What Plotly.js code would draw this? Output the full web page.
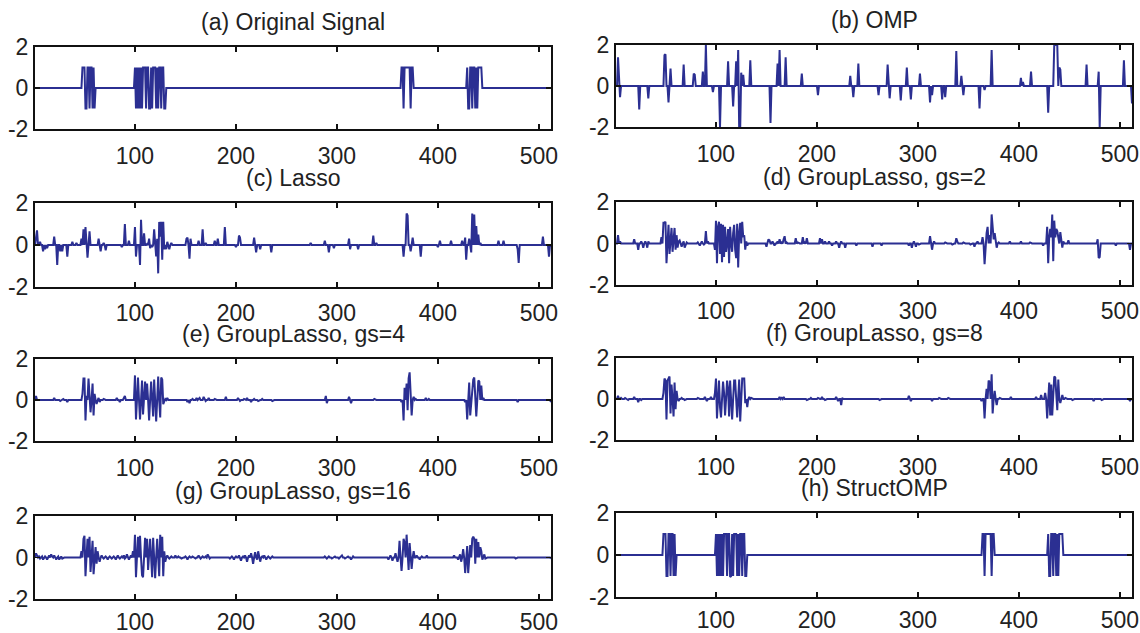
<!DOCTYPE html>
<html><head><meta charset="utf-8">
<script src="https://cdn.plot.ly/plotly-3.0.1.min.js"></script>
<style>html,body{margin:0;padding:0;background:#fff}#chart{width:1140px;height:633px}</style>
</head><body><div id="chart"></div>
<script>
// ---------------- DATA ----------------
const N = 512;                       // signal length (sample index 1..512)
const xTickVals = [100, 200, 300, 400, 500];
const yTickVals = [-2, 0, 2];
const yTickText = ['-2', '0', '2'];
const panelTitles = [
  '(a) Original Signal', '(b) OMP',
  '(c) Lasso', '(d) GroupLasso, gs=2',
  '(e) GroupLasso, gs=4', '(f) GroupLasso, gs=8',
  '(g) GroupLasso, gs=16', '(h) StructOMP'
];

// block-sparse signals: [start index, values...]
const originalBlocks = [
  [48,  [1,1,1,-1,-1,1,1,-1,1,1,-1,1,-1]],
  [100, [1,-1,1,-1,1,-1,1,-1,1,1,1,-1,1,1,-1,-1,1,-1,1,1,1,-1,1,-1,1,1,-1,1,1,-1,-1]],
  [364, [1,1,-1,1,1,1,1,1,1,-1,1,1]],
  [429, [1,-1,-1,1,1,-1,1,1,-1,1,-1,1,1,1,1]]
];
const structOmpBlocks = [
  [48,  [1,1,1,-1,-1,1,1,-1,1,1,-1,1,-1]],
  [100, [1,-1,1,-1,1,-1,1,-1,1,1,1,-1,1,1,-1.05,-1,1,-1,1,1,1,-1,1,-1,1,1,-1,1,1,-1,-1]],
  [364, [1,1,-1,1,1,1,1,1,1,-1,1,1]],
  [429, [1,-1,-1,1,1,-1,1,1,-1,1,-1,1,1,1,1]]
];

// recovered signals: [index, value] nonzero entries
const ompPairs = [[3,1.4],[5,-0.55],[24,-1.15],[33,-0.6],[49,1.5],[50,1.55],[53,-0.8],[55,0.85],[68,1.05],[78,0.6],[79,0.55],[87,0.7],[90,2.0],[97,-0.3],[104,-2.0],[112,1.2],[117,-1.0],[120,1.2],[122,1.75],[123,-2.1],[124,-2.1],[125,0.65],[127,0.55],[134,1.25],[154,-1.8],[161,1.1],[163,1.75],[169,1.4],[185,0.6],[201,-0.45],[233,0.5],[236,-0.55],[241,1.1],[261,-0.45],[270,1.05],[272,-0.6],[283,-0.7],[289,0.9],[293,-0.65],[302,0.6],[312,-0.8],[314,-0.45],[324,-0.65],[327,-0.55],[338,1.7],[343,0.5],[345,-0.45],[361,-1.1],[366,-0.2],[373,1.75],[402,0.4],[404,0.2],[412,0.7],[429,-1.3],[435,2.0],[436,2.0],[437,2.0],[438,2.0],[440,0.9],[441,0.8],[467,1.05],[479,0.7],[480,-2.0],[504,1.25],[512,-0.85]];

const lassoPairs = [[2,0.3],[3,0.7],[6,0.15],[9,-0.3],[11,-0.2],[13,-0.15],[20,0.4],[23,-0.95],[26,-0.3],[28,-0.3],[33,-0.55],[38,0.15],[42,0.1],[47,0.3],[49,0.75],[51,0.85],[53,-0.6],[55,0.65],[64,0.3],[66,-0.3],[69,0.1],[71,-0.25],[87,-0.1],[90,1.0],[94,0.2],[100,0.85],[101,-0.55],[105,-0.95],[106,1.2],[109,0.55],[112,0.05],[114,0.3],[115,-0.15],[117,-0.1],[119,0.75],[121,-0.55],[122,0.3],[123,-1.35],[124,1.1],[125,0.4],[126,1.1],[127,-0.7],[128,1.1],[129,-0.2],[131,-0.2],[132,0.15],[134,-0.2],[136,0.1],[151,0.3],[152,0.35],[154,-0.65],[155,0.3],[163,0.2],[167,0.75],[170,0.1],[179,0.2],[182,0.3],[189,0.85],[200,-0.1],[203,0.45],[204,0.35],[218,0.35],[220,-0.35],[224,-0.2],[235,-0.35],[274,0.1],[288,0.2],[292,-0.35],[297,-0.15],[312,0.3],[313,-0.2],[321,-0.2],[336,0.45],[339,0.1],[366,-0.55],[369,1.5],[370,1.4],[373,-0.3],[375,0.35],[383,-0.55],[400,-0.1],[402,0.2],[413,0.2],[424,0.2],[427,0.35],[428,-0.7],[431,0.3],[433,-0.35],[434,1.5],[436,1.45],[438,0.9],[440,0.5],[442,0.1],[460,0.2],[465,0.2],[479,-0.2],[480,-0.85],[504,0.4],[510,-0.55],[512,-0.1]];

const groupLasso2Pairs = [[3,0.4],[5,0.1],[19,0.2],[23,-0.3],[26,0.1],[28,-0.2],[30,0.1],[32,-0.2],[33,0.1],[46,0.3],[48,1.0],[49,1.0],[50,1.05],[51,-0.95],[53,0.9],[54,-0.5],[55,0.3],[56,0.75],[57,-0.4],[58,0.2],[59,0.75],[60,-0.3],[61,0.4],[62,-0.2],[63,0.1],[64,0.15],[66,-0.15],[68,0.1],[69,-0.2],[71,0.05],[82,0.05],[84,-0.1],[86,0.1],[88,-0.05],[90,0.6],[92,0.1],[99,-0.3],[100,1.1],[101,-0.95],[102,0.8],[103,1.05],[104,-0.5],[105,0.95],[106,-0.9],[107,0.9],[108,-0.65],[109,0.8],[110,-0.4],[112,0.7],[113,-0.95],[114,0.8],[116,-0.4],[117,0.5],[118,0.9],[119,-0.3],[120,-0.7],[121,0.95],[122,-1.15],[123,0.5],[124,1.0],[126,1.05],[127,0.3],[128,0.4],[129,-0.3],[130,0.1],[131,-0.1],[150,-0.15],[152,0.2],[153,0.15],[156,0.1],[158,-0.1],[161,0.1],[163,0.2],[165,0.05],[167,0.2],[168,0.35],[170,0.05],[179,0.25],[181,0.05],[186,0.3],[188,0.05],[190,0.25],[203,0.25],[205,0.2],[208,0.1],[212,0.1],[215,-0.1],[219,0.1],[222,-0.2],[224,0.1],[228,-0.2],[239,-0.1],[255,-0.15],[264,-0.1],[291,-0.1],[294,-0.2],[296,0.1],[298,-0.15],[301,-0.05],[312,0.35],[314,-0.3],[316,0.1],[327,0.05],[334,-0.05],[338,0.25],[339,0.1],[345,0.05],[352,-0.05],[356,-0.15],[359,0.1],[364,0.3],[366,-1.0],[368,0.5],[369,0.8],[371,0.4],[373,1.4],[374,0.7],[375,0.2],[376,0.5],[378,-0.2],[380,0.05],[391,0.1],[402,0.1],[411,0.05],[424,-0.1],[428,0.8],[429,-0.95],[430,0.3],[431,0.7],[432,0.3],[433,1.4],[434,-0.85],[435,1.1],[436,0.3],[437,0.7],[438,0.6],[439,0.2],[441,0.55],[443,-0.2],[444,0.1],[449,0.15],[478,0.2],[479,-0.7],[480,-0.65],[496,-0.1],[510,-0.3]];

const groupLasso4Pairs = [[2,0.2],[20,0.1],[26,-0.05],[29,0.05],[33,-0.1],[48,0.3],[49,1.05],[50,1.05],[51,-1.0],[52,0.2],[54,1.05],[55,0.2],[56,-0.6],[58,0.8],[59,-0.75],[60,0.3],[62,-0.2],[64,0.1],[65,-0.1],[69,0.05],[82,0.1],[85,-0.1],[89,0.1],[90,0.2],[100,1.2],[101,-0.95],[103,1.1],[105,-0.95],[107,0.95],[108,-0.7],[110,0.9],[112,0.8],[114,-1.0],[116,0.9],[118,-0.8],[119,1.0],[121,-1.05],[123,1.15],[125,-0.85],[126,1.1],[127,1.0],[128,-0.2],[130,0.05],[132,0.1],[152,-0.1],[154,-0.15],[157,0.05],[161,0.1],[163,0.05],[164,0.1],[168,0.15],[170,-0.05],[173,0.1],[179,0.05],[190,0.15],[202,0.1],[204,-0.05],[208,0.05],[211,0.1],[215,-0.1],[218,0.05],[222,-0.05],[226,0.05],[236,-0.05],[289,0.2],[290,-0.15],[312,0.15],[314,-0.15],[337,0.05],[364,-0.1],[366,-1.0],[367,0.6],[369,0.8],[370,-0.5],[371,1.05],[372,1.35],[374,-0.75],[376,0.15],[378,0.05],[388,0.1],[391,0.05],[427,-0.1],[429,-0.95],[431,0.85],[432,-0.75],[434,0.8],[435,1.0],[436,1.1],[437,0.4],[438,-0.8],[440,0.95],[441,0.9],[443,0.7],[445,0.1],[479,-0.1],[512,-0.1]];

const groupLasso8Pairs = [[3,0.15],[6,0.05],[10,0.05],[13,-0.05],[19,0.1],[23,-0.15],[26,-0.05],[48,0.3],[49,1.0],[50,0.9],[51,-1.0],[52,0.9],[53,1.05],[54,1.1],[55,-0.7],[56,0.7],[58,-0.85],[59,0.8],[60,-0.5],[61,0.4],[63,-0.1],[66,0.05],[69,-0.05],[82,0.05],[89,0.1],[91,-0.1],[95,0.1],[99,0.3],[100,1.0],[101,-0.95],[102,0.4],[103,0.9],[104,-0.4],[105,-0.9],[107,0.85],[108,0.3],[109,-0.8],[111,0.9],[112,0.5],[113,-0.85],[114,0.9],[116,-1.0],[118,0.9],[119,0.9],[121,-0.9],[123,0.95],[124,-1.1],[126,1.0],[127,1.0],[128,1.0],[129,-0.2],[131,-0.4],[133,0.1],[135,0.05],[163,0.1],[165,0.05],[167,0.1],[190,-0.05],[194,0.05],[201,0.05],[205,0.1],[208,-0.05],[219,0.1],[221,-0.1],[224,-0.3],[225,0.05],[262,-0.05],[291,0.15],[293,-0.1],[314,-0.1],[321,0.05],[330,0.05],[363,-0.1],[366,-0.95],[368,0.5],[370,0.9],[371,0.8],[373,1.2],[374,-0.7],[376,0.4],[378,-0.3],[381,0.05],[392,0.1],[417,0.1],[422,0.2],[426,0.3],[428,-0.95],[430,0.8],[431,-0.8],[432,0.7],[433,-0.8],[435,1.1],[436,1.05],[438,-0.55],[439,0.95],[441,-0.2],[443,0.2],[446,0.05],[453,-0.05],[474,-0.1],[482,-0.05],[510,-0.1]];

const groupLasso16Pairs = [[2,0.2],[3,0.1],[5,0.05],[6,-0.05],[8,0.05],[9,-0.1],[11,0.05],[13,-0.1],[15,0.1],[17,0.15],[18,0.05],[20,0.1],[22,-0.1],[24,0.05],[25,-0.1],[27,0.05],[28,-0.05],[47,0.3],[49,0.9],[50,1.05],[51,-0.9],[53,0.9],[55,1.0],[56,-0.7],[58,0.8],[59,-0.8],[61,0.5],[62,-0.3],[63,0.3],[65,-0.2],[67,0.1],[69,-0.05],[71,0.05],[73,-0.1],[75,0.05],[77,-0.05],[79,0.05],[81,-0.1],[83,0.1],[85,-0.05],[87,0.05],[89,0.1],[90,-0.05],[92,0.15],[94,-0.1],[96,0.1],[98,0.3],[100,1.1],[101,-0.95],[103,1.0],[105,1.05],[107,-0.85],[108,-0.95],[110,0.95],[112,0.9],[113,-0.6],[115,0.9],[117,-0.95],[118,0.95],[120,-1.0],[122,0.9],[124,-0.9],[125,1.1],[127,1.0],[128,-0.9],[129,0.3],[130,-0.2],[132,0.1],[134,-0.05],[136,0.05],[140,0.1],[143,0.05],[146,-0.05],[150,0.05],[152,-0.1],[154,0.05],[157,0.05],[160,-0.05],[163,0.1],[165,-0.05],[167,0.05],[170,0.05],[172,0.15],[174,-0.05],[194,-0.05],[196,0.05],[198,-0.1],[200,0.05],[203,0.1],[205,-0.15],[207,0.05],[209,0.1],[211,-0.2],[213,0.1],[215,0.2],[217,-0.3],[219,0.25],[221,-0.1],[222,0.3],[224,-0.2],[226,0.05],[228,0.1],[230,-0.1],[232,0.05],[234,-0.05],[236,0.05],[288,0.05],[290,-0.05],[292,0.05],[295,-0.05],[298,0.05],[302,-0.05],[305,0.1],[308,-0.05],[311,0.05],[314,-0.1],[316,0.05],[351,-0.1],[353,0.1],[355,-0.15],[358,0.2],[360,-0.2],[362,0.8],[364,-0.65],[366,0.9],[367,0.7],[369,1.1],[371,-0.6],[372,0.7],[374,-0.55],[376,0.3],[379,0.1],[382,-0.1],[384,0.05],[389,0.1],[416,0.1],[420,-0.1],[422,0.15],[423,-0.2],[425,0.4],[427,-0.75],[429,0.55],[430,-0.75],[432,0.6],[434,0.9],[435,1.0],[436,0.9],[437,-0.3],[438,0.9],[440,0.75],[442,0.5],[443,0.3],[444,-0.1],[446,0.15],[447,-0.05],[477,-0.05],[512,-0.05]];

// ---------------- BUILD ----------------
function fromBlocks(blocks) {
  const y = new Array(N).fill(0);
  blocks.forEach(([start, vals]) => vals.forEach((v, k) => { y[start - 1 + k] = v; }));
  return y;
}
function fromPairs(pairs) {
  const y = new Array(N).fill(0);
  pairs.forEach(([i, v]) => { y[i - 1] = v; });
  return y;
}
const sampleIdx = Array.from({length: N}, (_, k) => k + 1);
const series = [
  fromBlocks(originalBlocks), fromPairs(ompPairs),
  fromPairs(lassoPairs), fromPairs(groupLasso2Pairs),
  fromPairs(groupLasso4Pairs), fromPairs(groupLasso8Pairs),
  fromPairs(groupLasso16Pairs), fromBlocks(structOmpBlocks)
];

// ---------------- LAYOUT ----------------
const W = 1140, H = 633;
// pixel boxes [left, right, top, bottom]
const boxes = [
  [35, 551, 47, 129], [616, 1132, 45, 127],
  [35, 551, 203, 287], [616, 1132, 202, 285],
  [35, 551, 359, 441], [616, 1132, 358, 440],
  [35, 551, 516, 599], [616, 1132, 513, 597]
];
const xLabelStandoff = [5, 5, 4, 4, 5, 5, 1, 1];
const FONT = 'Liberation Sans, Arial, Helvetica, sans-serif';
const lineColor = '#2b2f92';

const data = [];
const layout = {
  width: W, height: H,
  margin: {l: 0, r: 0, t: 0, b: 0},
  paper_bgcolor: '#ffffff', plot_bgcolor: '#ffffff',
  showlegend: false,
  font: {family: FONT, size: 23, color: '#222222'},
  annotations: []
};

series.forEach((ys, p) => {
  const n = p === 0 ? '' : String(p + 1);
  data.push({
    type: 'scatter', mode: 'lines', x: sampleIdx, y: ys,
    xaxis: 'x' + n, yaxis: 'y' + n,
    line: {color: lineColor, width: 2}, hoverinfo: 'skip'
  });
  const [l, r, t, b] = boxes[p];
  const common = {
    showline: true, linecolor: '#111111', linewidth: 2, mirror: 'ticks',
    ticks: 'inside', ticklen: 5, tickwidth: 1.5, tickcolor: '#111111',
    showgrid: false, zeroline: false, fixedrange: true,
    tickfont: {family: FONT, size: 23, color: '#222222'}
  };
  layout['xaxis' + n] = Object.assign({}, common, {
    domain: [l / W, r / W], range: [1, N], anchor: 'y' + n,
    tickmode: 'array', tickvals: xTickVals, ticktext: xTickVals.map(String),
    ticklabelstandoff: xLabelStandoff[p]
  });
  layout['yaxis' + n] = Object.assign({}, common, {
    domain: [1 - b / H, 1 - t / H], range: [-2, 2], anchor: 'x' + n,
    tickmode: 'array', tickvals: yTickVals, ticktext: yTickText,
    ticklabelstandoff: 0
  });
  layout.annotations.push({
    text: panelTitles[p], xref: 'paper', yref: 'paper',
    x: (l + r) / 2 / W, y: 1 - t / H, xanchor: 'center', yanchor: 'bottom',
    yshift: 10, showarrow: false,
    font: {family: FONT, size: 23, color: '#222222'}
  });
});

Plotly.newPlot('chart', data, layout, {displayModeBar: false, staticPlot: true});
</script>
</body></html>
